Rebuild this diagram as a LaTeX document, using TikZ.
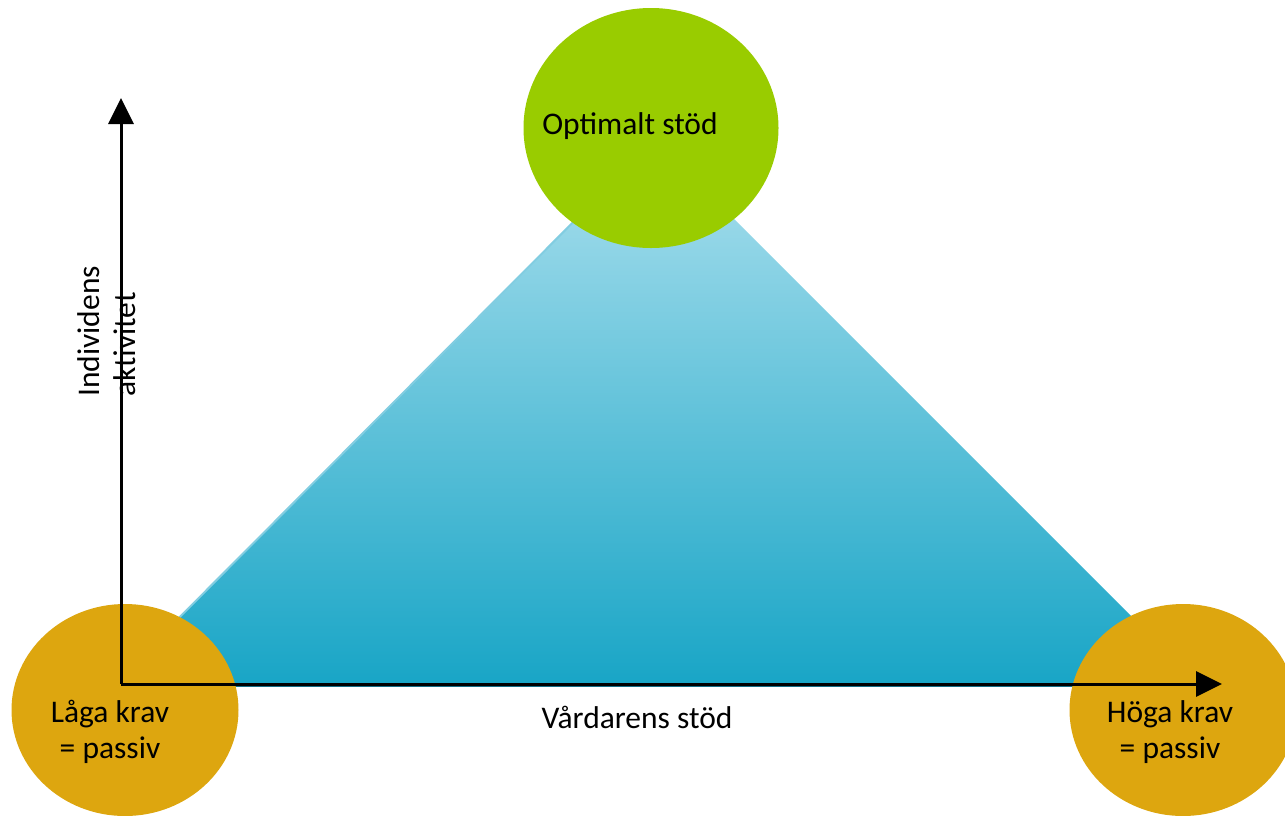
\documentclass[tikz,border=0pt]{standalone}
\usepackage{fontspec}
\setmainfont{Carlito}
\usetikzlibrary{arrows.meta,shapes.geometric}
\definecolor{topgreen}{RGB}{153,204,0}
\definecolor{gold}{RGB}{221,166,15}
\definecolor{tritop}{RGB}{172,224,238}
\definecolor{tribot}{RGB}{24,165,198}
\definecolor{triedge}{RGB}{20,110,135}
\definecolor{trilight}{RGB}{130,205,225}
\tikzset{
  blob/.style={ellipse, draw=none, inner sep=0pt},
  lbl/.style={font=\fontsize{31.5}{36}\selectfont, inner sep=0pt, align=center},
  axis/.style={line width=3pt, -{Triangle[length=26pt,width=25pt]}},
}
\begin{document}
\begin{tikzpicture}[x=1pt,y=-1pt]
\useasboundingbox (0,0) rectangle (1285,815);
\clip (0,0) rectangle (1285,815);
\fill[white] (0,0) rectangle (1285,815);
% triangle
\coordinate (apex) at (655,140);
\coordinate (bl) at (111,686);
\coordinate (br) at (1201,686);
\shade[top color=tritop, bottom color=tribot] (apex) -- (br) -- (bl) -- cycle;
\draw[trilight, line width=2pt] (apex) -- (bl);
\draw[triedge, line width=2pt] (bl) -- (br);
% circles
\node[blob, fill=topgreen, minimum width=255pt, minimum height=240pt] (top) at (651,128) {};
\node[blob, fill=gold, minimum width=227pt, minimum height=212pt] (left) at (125,710) {};
\node[blob, fill=gold, minimum width=227pt, minimum height=212pt] (right) at (1183,710) {};
% axes
\coordinate (o) at (121,684);
\coordinate (ytip) at (121,98);
\coordinate (xtip) at (1222,684);
\draw[axis] (o) -- (ytip);
\draw[axis] (o) -- (xtip);
% labels
\node[lbl] (t1) at (630,126) {Optimalt stöd};
\node[lbl] (t2) at (110,732) {Låga krav\\= passiv};
\node[lbl] (t3) at (1170,732) {Höga krav\\= passiv};
\node[lbl] (t4) at (637,717) {Vårdarens stöd};
\node[lbl, align=left, rotate=90, anchor=west] (t5) at (107,397) {Individens\\aktivitet};
\end{tikzpicture}
\end{document}
